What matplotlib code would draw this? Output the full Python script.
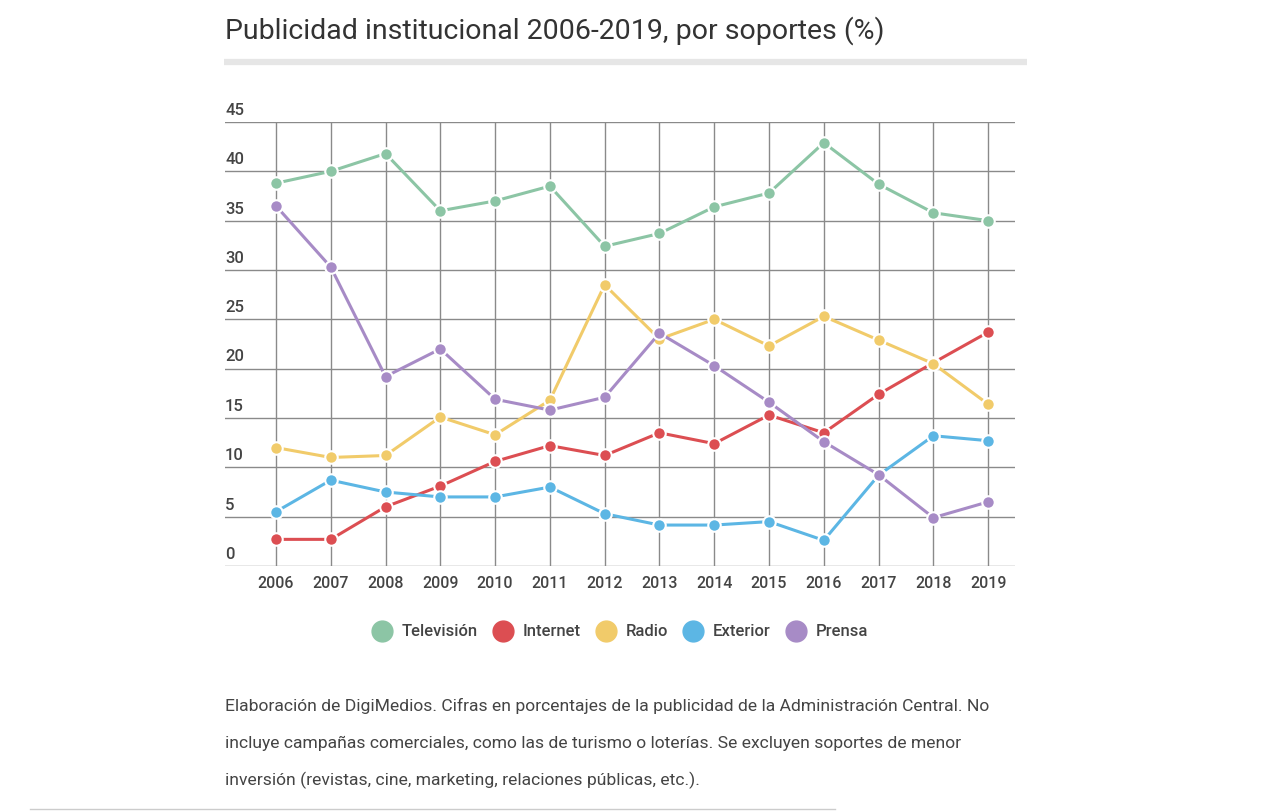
import matplotlib.pyplot as plt
from matplotlib.lines import Line2D

plt.rcParams['font.family'] = ['Roboto', 'DejaVu Sans']

years = list(range(2006, 2020))
television = [38.8, 40.0, 41.8, 36.0, 37.0, 38.5, 32.4, 33.7, 36.4, 37.8, 42.9, 38.7, 35.8, 35.0]
internet = [2.7, 2.7, 6.0, 8.1, 10.6, 12.2, 11.2, 13.5, 12.4, 15.3, 13.5, 17.4, 20.6, 23.7]
radio = [12.0, 11.0, 11.2, 15.1, 13.3, 16.8, 28.5, 23.0, 25.0, 22.3, 25.3, 22.9, 20.5, 16.4]
exterior = [5.5, 8.7, 7.5, 7.0, 7.0, 8.0, 5.3, 4.15, 4.15, 4.5, 2.6, 9.2, 13.2, 12.7]
prensa = [36.5, 30.3, 19.2, 22.0, 16.9, 15.8, 17.1, 23.6, 20.3, 16.6, 12.6, 9.25, 4.9, 6.5]

names = ['Televisión', 'Internet', 'Radio', 'Exterior', 'Prensa']
series = [television, internet, radio, exterior, prensa]
colors = ['#8cc5a5', '#dc4e52', '#f1cb6a', '#5cb6e4', '#a78bc6']
yticks = [0, 5, 10, 15, 20, 25, 30, 35, 40, 45]

fig = plt.figure(figsize=(12.71, 8.11), dpi=100)
ax = fig.add_axes([225 / 1271, 245 / 811, 790 / 1271, 444 / 811])

for vals, c, n in zip(series, colors, names):
    ax.plot(years, vals, color=c, lw=2.2, marker='o', ms=9,
            mec='white', mew=1.5, label=n, zorder=3)

ax.set_xlim(2006 - 0.93, 2019 + 0.49)
ax.set_ylim(0, 45)
ax.set_xticks(years)
ax.set_xticklabels([str(y) for y in years], fontsize=11.5, color='#444444', fontweight='medium')
ax.set_yticks(yticks)
ax.set_yticklabels([])
ax.tick_params(length=0, pad=7)
ax.grid(True, color='#8a8a8a', lw=1)
ax.set_axisbelow(True)
for s in ax.spines.values():
    s.set_visible(False)

for v in yticks:
    ax.annotate(str(v), (ax.get_xlim()[0], v), xytext=(0, 3), textcoords='offset points',
                ha='left', va='bottom', fontsize=12, color='#444444', fontweight='medium')

# title and bar
fig.text(225 / 1271, 1 - 31 / 811, 'Publicidad institucional 2006-2019, por soportes (%)',
         fontsize=20.5, color='#333333', va='center', ha='left')
fig.add_artist(Line2D([224 / 1271, 1027 / 1271], [1 - 62 / 811, 1 - 62 / 811],
                      color='#e6e6e6', lw=4.5, solid_capstyle='butt'))

handles = [Line2D([], [], color=c, marker='o', ls='none', ms=15) for c in colors]
fig.legend(handles, names, loc='center', bbox_to_anchor=(620 / 1271, 1 - 632 / 811),
           ncol=5, frameon=False, handletextpad=0.6, columnspacing=0.9,
           handlelength=1.2, labelcolor='#444444', prop={'weight': 'medium', 'size': 12})

notes = ['Elaboración de DigiMedios. Cifras en porcentajes de la publicidad de la Administración Central. No',
         'incluye campañas comerciales, como las de turismo o loterías. Se excluyen soportes de menor',
         'inversión (revistas, cine, marketing, relaciones públicas, etc.).']
for i, t in enumerate(notes):
    fig.text(225 / 1271, 1 - (706 + 37 * i) / 811, t, fontsize=12.6, color='#444444',
             va='center', ha='left')

fig.add_artist(Line2D([30 / 1271, 835 / 1271], [1 - 809 / 811, 1 - 809 / 811],
                      color='#cccccc', lw=1))

fig.savefig('out.png', dpi=100)
